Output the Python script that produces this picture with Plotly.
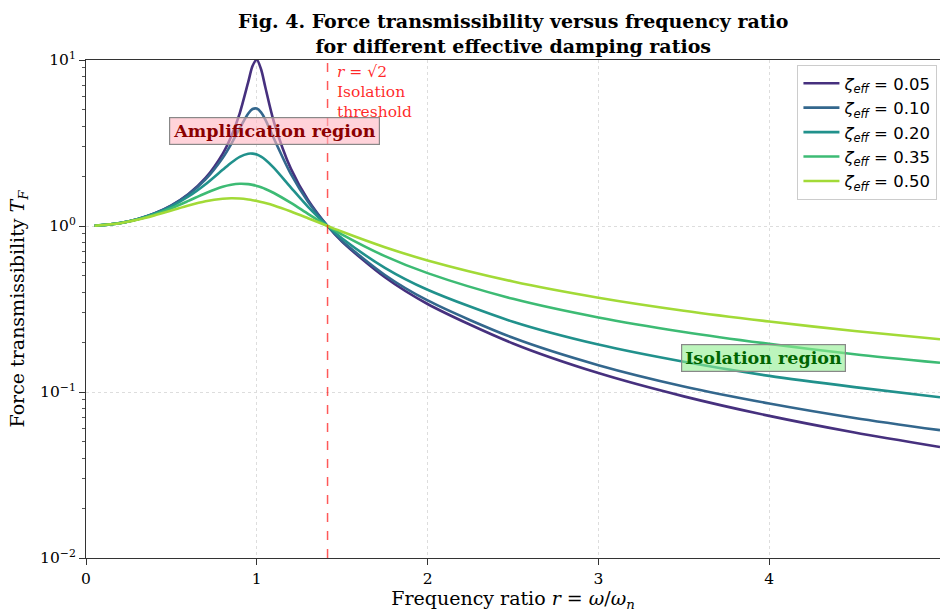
import plotly.graph_objects as go

# Frequency ratio samples
r = [0.05, 0.2, 0.3, 0.4, 0.5, 0.6, 0.7, 0.8, 0.85, 0.9, 0.95, 0.975, 1.0, 1.025, 1.05,
     1.1, 1.2, 1.3, 1.4142, 1.5, 1.75, 2.0, 2.5, 3.0, 3.5, 4.0, 4.5, 5.0]

zeta_labels = ["0.05", "0.10", "0.20", "0.35", "0.50"]

T_005 = [1.003, 1.042, 1.099, 1.190, 1.332, 1.559, 1.947, 2.720, 3.458, 4.776, 7.379, 9.193, 10.05, 8.793, 6.853,
         4.244, 2.208, 1.436, 1.000, 0.803, 0.491, 0.339, 0.196, 0.130, 0.0941, 0.0718, 0.0570, 0.0466]
T_010 = [1.003, 1.042, 1.099, 1.189, 1.328, 1.547, 1.909, 2.571, 3.117, 3.882, 4.766, 5.065, 5.099, 4.834, 4.373,
         3.367, 2.052, 1.401, 1.000, 0.812, 0.507, 0.356, 0.212, 0.145, 0.108, 0.0853, 0.0698, 0.0589]
T_020 = [1.003, 1.041, 1.097, 1.184, 1.314, 1.505, 1.785, 2.180, 2.407, 2.611, 2.727, 2.730, 2.693, 2.616, 2.509,
         2.241, 1.704, 1.305, 1.000, 0.841, 0.560, 0.413, 0.265, 0.193, 0.152, 0.125, 0.107, 0.0929]
T_035 = [1.003, 1.041, 1.094, 1.173, 1.280, 1.417, 1.575, 1.722, 1.772, 1.796, 1.787, 1.769, 1.744, 1.711, 1.672,
         1.581, 1.377, 1.184, 1.000, 0.888, 0.659, 0.520, 0.364, 0.281, 0.230, 0.195, 0.169, 0.150]
T_050 = [1.003, 1.040, 1.090, 1.158, 1.240, 1.329, 1.409, 1.460, 1.468, 1.463, 1.444, 1.431, 1.414, 1.395, 1.374,
         1.328, 1.222, 1.114, 1.000, 0.923, 0.745, 0.620, 0.463, 0.370, 0.309, 0.266, 0.233, 0.208]

series = [T_005, T_010, T_020, T_035, T_050]
colors = ["#46307e", "#33678d", "#21918c", "#3dbb74", "#a2da37"]

x_ticks = [0, 1, 2, 3, 4, 5]
y_ticks = [0.01, 0.1, 1, 10]
y_ticktext = ["10<sup>−2</sup>", "10<sup>−1</sup>", "10<sup>0</sup>", "10<sup>1</sup>"]
threshold_r = 1.4142

SERIF = "DejaVu Serif"
SANS = "DejaVu Sans"

fig = go.Figure()

for vals, lab, col in zip(series, zeta_labels, colors):
    fig.add_trace(go.Scatter(
        x=r, y=vals, mode="lines",
        line=dict(color=col, width=2.6, shape="spline", smoothing=0.8),
        name=f"<i>ζ</i><sub><i>eff</i></sub> = {lab}",
    ))

# reference lines
fig.add_shape(type="line", xref="paper", yref="y", x0=0, x1=1, y0=0, y1=0,
              line=dict(color="#333333", width=1.2, dash="dot"), layer="below")
fig.add_shape(type="line", xref="x", yref="paper", x0=threshold_r, x1=threshold_r, y0=0, y1=1,
              line=dict(color="rgba(255,0,0,0.65)", width=1.5, dash="dash"))

# title as annotation
fig.add_annotation(x=0.5, y=1, xref="paper", yref="paper", xanchor="center", yanchor="bottom", yshift=1,
                   text="<b>Fig. 4. Force transmissibility versus frequency ratio<br>for different effective damping ratios</b>",
                   showarrow=False, font=dict(family=SERIF, size=19, color="black"))

# annotations
fig.add_annotation(x=1.105, y=0.572, xref="x", yref="y", text="<b>Amplification region</b>",
                   showarrow=False, font=dict(family=SERIF, size=17.5, color="#8b0000"),
                   bgcolor="rgba(255,182,193,0.6)", bordercolor="#888888", borderwidth=1.2, borderpad=3)
fig.add_annotation(x=3.965, y=-0.795, xref="x", yref="y", text="<b>Isolation region</b>",
                   showarrow=False, font=dict(family=SERIF, size=17.5, color="#006400"),
                   bgcolor="rgba(144,238,144,0.6)", bordercolor="#888888", borderwidth=1.2, borderpad=3)
fig.add_annotation(x=1.455, y=0.997, xref="x", yref="paper", xanchor="left", yanchor="top",
                   text="<i>r</i> = √2<br>Isolation<br>threshold", align="left",
                   showarrow=False, font=dict(family=SERIF, size=15.5, color="rgba(255,0,0,0.85)"))

fig.update_layout(
    width=940, height=612,
    margin=dict(l=86, r=0, t=60, b=54),
    paper_bgcolor="white", plot_bgcolor="white",
    legend=dict(x=0.997, xanchor="right", y=0.99, yanchor="top",
                bgcolor="rgba(255,255,255,0.85)", bordercolor="#cccccc", borderwidth=1,
                font=dict(family=SANS, size=16.5, color="black"), tracegroupgap=0, itemwidth=36),
    showlegend=True,
)

fig.update_xaxes(range=[0, 5], tickvals=x_ticks, ticktext=[str(t) for t in x_ticks],
                 showline=True, linecolor="#333333", linewidth=1.2, mirror=True,
                 ticks="outside", ticklen=6, tickcolor="#333333",
                 showgrid=True, gridcolor="#dddddd", gridwidth=1, griddash="dot",
                 zeroline=False,
                 tickfont=dict(family=SERIF, size=15.5, color="black"),
                 title=dict(text="Frequency ratio <i>r</i> = <i>ω</i>/<i>ω</i><sub><i>n</i></sub>",
                            font=dict(family=SERIF, size=19, color="black"), standoff=6))

fig.update_yaxes(type="log", range=[-2, 1], tickvals=y_ticks, ticktext=y_ticktext,
                 showline=True, linecolor="#333333", linewidth=1.2, mirror=True,
                 ticks="outside", ticklen=6, tickcolor="#333333",
                 minor=dict(ticks="outside", ticklen=3, tickcolor="#555555", showgrid=False,
                            tickvals=[m * d for d in (0.01, 0.1, 1) for m in range(2, 10)]),
                 showgrid=True, gridcolor="#dddddd", gridwidth=1, griddash="dot",
                 zeroline=False,
                 tickfont=dict(family=SERIF, size=15.5, color="black"),
                 title=dict(text="Force transmissibility <i>T</i><sub><i>F</i></sub>",
                            font=dict(family=SERIF, size=19, color="black"), standoff=10))

fig.write_html("out.html")
